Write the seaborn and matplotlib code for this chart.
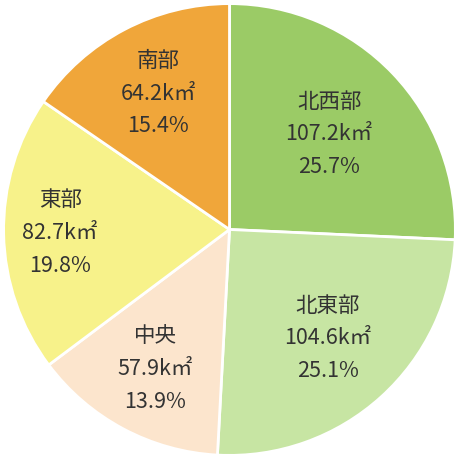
import numpy as np
import matplotlib
matplotlib.use("Agg")
import matplotlib.pyplot as plt
import seaborn as sns

# areas by district (km2) and share (%)
districts = ["北西部", "北東部", "中央", "東部", "南部"]
areas = [107.2, 104.6, 57.9, 82.7, 64.2]
shares = [25.7, 25.1, 13.9, 19.8, 15.4]
colors = ["#9bcb66", "#c7e5a3", "#fce5cd", "#f7f28a", "#f0a63a"]

# how far out each label block sits (fraction of radius)
label_r = [0.61, 0.65, 0.70, 0.75, 0.68]

sns.set_theme(style="white")
plt.rcParams["font.family"] = ["Noto Sans CJK JP", "DejaVu Sans"]

fig = plt.figure(figsize=(4.59, 4.59), dpi=100)
ax = fig.add_axes([0, 0, 1, 1])

wedges, _ = ax.pie(
    shares,
    colors=colors,
    startangle=90,
    counterclock=False,
    radius=1.0,
    wedgeprops=dict(edgecolor="white", linewidth=2.0),
)

for w, name, a, s, r in zip(wedges, districts, areas, shares, label_r):
    ang = np.deg2rad((w.theta1 + w.theta2) / 2)
    x, y = r * np.cos(ang), r * np.sin(ang)
    ax.text(x, y, f"{name}\n{a:.1f}k㎡\n{s:.1f}%",
            ha="center", va="center", fontsize=15.5, color="#333333",
            linespacing=1.62)

ax.set_xlim(-1.016, 1.016)
ax.set_ylim(-1.016, 1.016)
ax.set_aspect("equal")
ax.axis("off")

fig.savefig("out.png", dpi=100)
